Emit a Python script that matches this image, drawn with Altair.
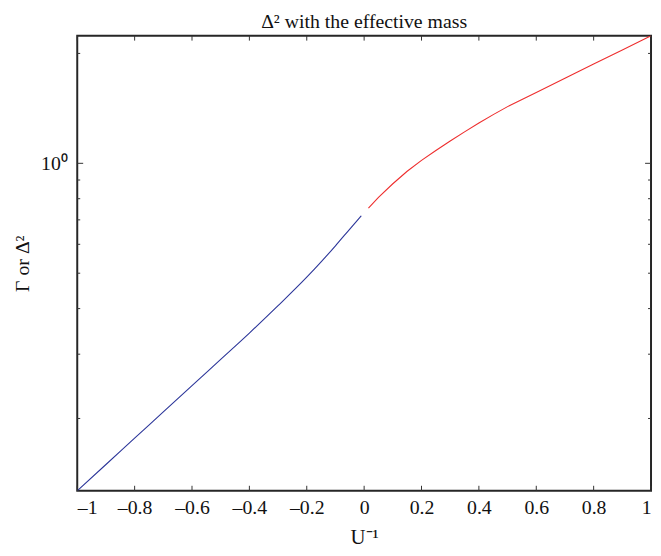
import altair as alt
import pandas as pd

# Blue branch (Gamma), U^-1 < 0
u_gamma = [-1.0, -0.9, -0.8, -0.7, -0.6, -0.5, -0.4, -0.3, -0.2, -0.15, -0.1, -0.05, -0.01]
v_gamma = [0.1268, 0.1496, 0.1766, 0.2084, 0.2460, 0.2904, 0.3428, 0.4074, 0.4875, 0.5370, 0.5943, 0.6607, 0.7184]

# Red branch (Delta^2), U^-1 > 0
u_delta = [0.015, 0.05, 0.1, 0.15, 0.2, 0.25, 0.3, 0.35, 0.4, 0.45, 0.5, 0.6, 0.7, 0.8, 0.9, 1.0]
v_delta = [0.754, 0.807, 0.879, 0.951, 1.019, 1.0844, 1.1515, 1.2195, 1.2889, 1.3594, 1.4298, 1.5636, 1.7100, 1.8703, 2.0451, 2.237]

x_ticks = [-1.0, -0.8, -0.6, -0.4, -0.2, 0.0, 0.2, 0.4, 0.6, 0.8, 1.0]
y_major = [1.0]
y_minor = [0.2, 0.3, 0.4, 0.5, 0.6, 0.7, 0.8, 0.9, 2.0]
title_text = ["Δ² with the effective mass"]

Y_DOMAIN = [0.1268, 2.237]
X_DOMAIN = [-1, 1]
W, H = 580, 460
FONT = "Liberation Serif"
FS = 20
INK = "#111111"

dg = pd.DataFrame({"u": u_gamma, "v": v_gamma})
dd = pd.DataFrame({"u": u_delta, "v": v_delta})
dx = pd.DataFrame({"t": x_ticks})
dyM = pd.DataFrame({"t": y_major})
dym = pd.DataFrame({"t": y_minor})
dt = pd.DataFrame({"txt": title_text})

xs = alt.Scale(domain=X_DOMAIN, nice=False, zero=False)
ys = alt.Scale(type="log", domain=Y_DOMAIN, nice=False)

gamma_line = alt.Chart(dg).mark_line(strokeWidth=1.1, clip=True, interpolate="monotone",
                                     color="#2b3599").encode(
    x=alt.X("u:Q", scale=xs,
            axis=alt.Axis(values=x_ticks, title="U⁻¹", grid=False, domain=False, ticks=False,
                          tickSize=0,
                          labelExpr="datum.value == 0 ? '0' : replace(format(datum.value, '.1~f'), '−', '–')",
                          labelFont=FONT, labelFontSize=FS, labelColor=INK, labelPadding=7,
                          titleFont=FONT, titleFontSize=FS + 1, titleFontWeight="normal", titleColor=INK,
                          titlePadding=9)),
    y=alt.Y("v:Q", scale=ys,
            axis=alt.Axis(values=y_major, title="Γ or Δ²", grid=False, domain=False, ticks=False,
                          tickSize=0, labelExpr="'10⁰'",
                          labelFont=FONT, labelFontSize=FS, labelColor=INK, labelPadding=10,
                          titleFont=FONT, titleFontSize=FS, titleFontWeight="normal", titleColor=INK,
                          titlePadding=8)),
)

delta_line = alt.Chart(dd).mark_line(strokeWidth=1.1, clip=True, color="#ee2e2e").encode(
    x=alt.X("u:Q", scale=xs), y=alt.Y("v:Q", scale=ys))

tick_color = "#333333"
xb = alt.Chart(dx).mark_rule(color=tick_color, strokeWidth=1).encode(
    x=alt.X("t:Q", scale=xs), y=alt.value(H), y2=alt.value(H - 5))
xt = alt.Chart(dx).mark_rule(color=tick_color, strokeWidth=1).encode(
    x=alt.X("t:Q", scale=xs), y=alt.value(0), y2=alt.value(5))
ylM = alt.Chart(dyM).mark_rule(color=tick_color, strokeWidth=1).encode(
    y=alt.Y("t:Q", scale=ys), x=alt.value(0), x2=alt.value(6))
yrM = alt.Chart(dyM).mark_rule(color=tick_color, strokeWidth=1).encode(
    y=alt.Y("t:Q", scale=ys), x=alt.value(W), x2=alt.value(W - 6))
ylm = alt.Chart(dym).mark_rule(color=tick_color, strokeWidth=1).encode(
    y=alt.Y("t:Q", scale=ys), x=alt.value(0), x2=alt.value(3))
yrm = alt.Chart(dym).mark_rule(color=tick_color, strokeWidth=1).encode(
    y=alt.Y("t:Q", scale=ys), x=alt.value(W), x2=alt.value(W - 3))

title = alt.Chart(dt).mark_text(font=FONT, fontSize=FS, color=INK, align="center",
                                baseline="alphabetic").encode(
    text="txt:N", x=alt.value(W / 2), y=alt.value(-8))

chart = alt.layer(gamma_line, delta_line, xb, xt, ylM, yrM, ylm, yrm, title).properties(
    width=W, height=H,
    autosize=alt.AutoSizeParams(type="none"),
    padding={"left": 70, "top": 25, "right": 2, "bottom": 62},
).configure(background="white").configure_view(stroke="#262626", strokeWidth=2)

chart.save("out.html", embed_options={"renderer": "svg", "actions": False})
